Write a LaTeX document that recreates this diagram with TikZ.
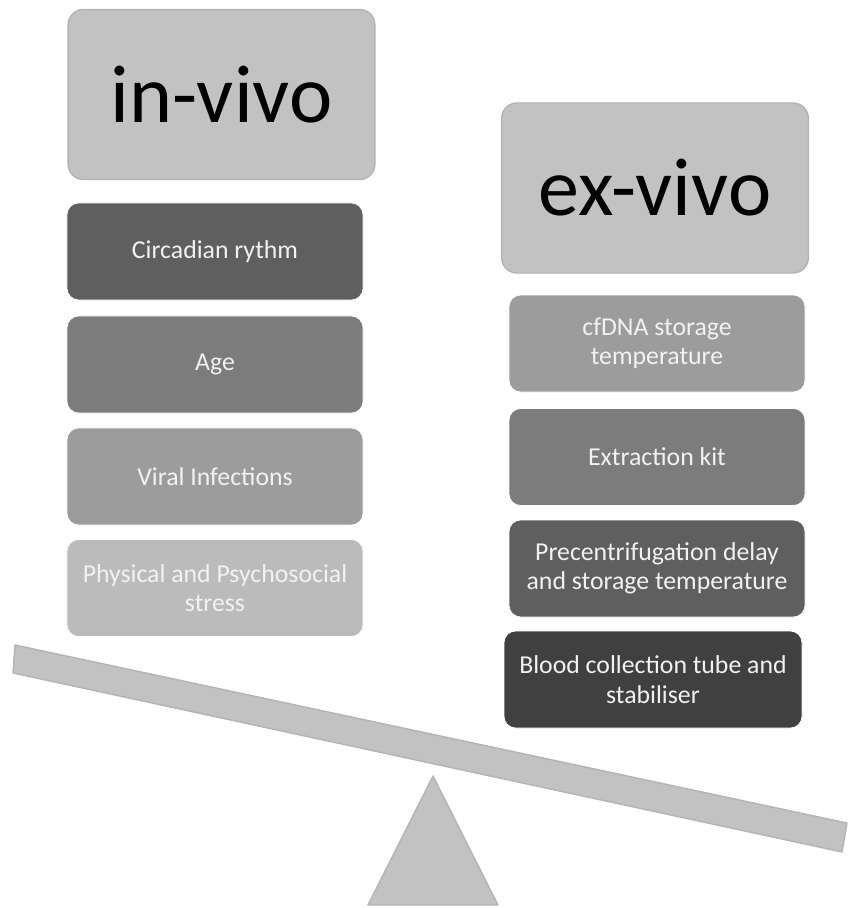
\documentclass[tikz,border=0pt]{standalone}
\usepackage{fontspec}
\setmainfont{Carlito}
\usepackage{xcolor}
\usetikzlibrary{positioning, calc}

\definecolor{headgray}{HTML}{C2C2C2}
\definecolor{headline}{HTML}{B4B4B4}
\definecolor{gray1}{HTML}{BBBBBB}
\definecolor{gray2}{HTML}{9C9C9C}
\definecolor{gray3}{HTML}{7C7C7C}
\definecolor{gray4}{HTML}{5F5F5F}
\definecolor{gray5}{HTML}{404040}
\definecolor{textwhite}{HTML}{F2F2F2}

\begin{document}
\begin{tikzpicture}[
    x=0.03cm, y=-0.03cm,
    header/.style={draw=headline, line width=1.2pt, fill=headgray, rectangle, rounded corners=13pt, minimum width=9.2cm, minimum height=5.1cm, align=center, font=\fontsize{70}{74}\selectfont},
    factor/.style={draw=white, line width=0.6pt, rectangle, rounded corners=10pt, minimum width=8.88cm, minimum height=2.91cm, align=center, text=textwhite, font=\fontsize{22}{25}\selectfont},
    scalepart/.style={draw=headline, line width=1.2pt, fill=headgray, line join=round}
]
    \useasboundingbox (0,0) rectangle (849,908);

    % ================= HEADERS =================
    \node[header] (INVIVO) at (221.5, 94.5) {in-vivo};
    \node[header] (EXVIVO) at (655, 188) {ex-vivo};

    % ================= IN-VIVO FACTORS =================
    \node[factor, fill=gray4] (CIRC) at (215, 251.5) {Circadian rythm};
    \node[factor, fill=gray3] (AGE) at (215, 364.5) {Age};
    \node[factor, fill=gray2] (VIRAL) at (215, 476.5) {Viral Infections};
    \node[factor, fill=gray1] (STRESS) at (215, 588) {Physical and Psychosocial\\stress};

    % ================= EX-VIVO FACTORS =================
    \node[factor, fill=gray2] (CFDNA) at (657, 343.5) {cfDNA storage\\temperature};
    \node[factor, fill=gray3] (KIT) at (657, 457) {Extraction kit};
    \node[factor, fill=gray4] (DELAY) at (657, 568.5) {Precentrifugation delay\\and storage temperature};
    \node[factor, fill=gray5, minimum width=8.94cm] (TUBE) at (653, 679.5) {Blood collection tube and\\stabiliser};

    % ================= SCALE =================
    \draw[scalepart] (15,645) -- (847,823) -- (842,852) -- (13,673) -- cycle;
    \draw[scalepart] (433,776) -- (498,905) -- (368,905) -- cycle;

\end{tikzpicture}
\end{document}
